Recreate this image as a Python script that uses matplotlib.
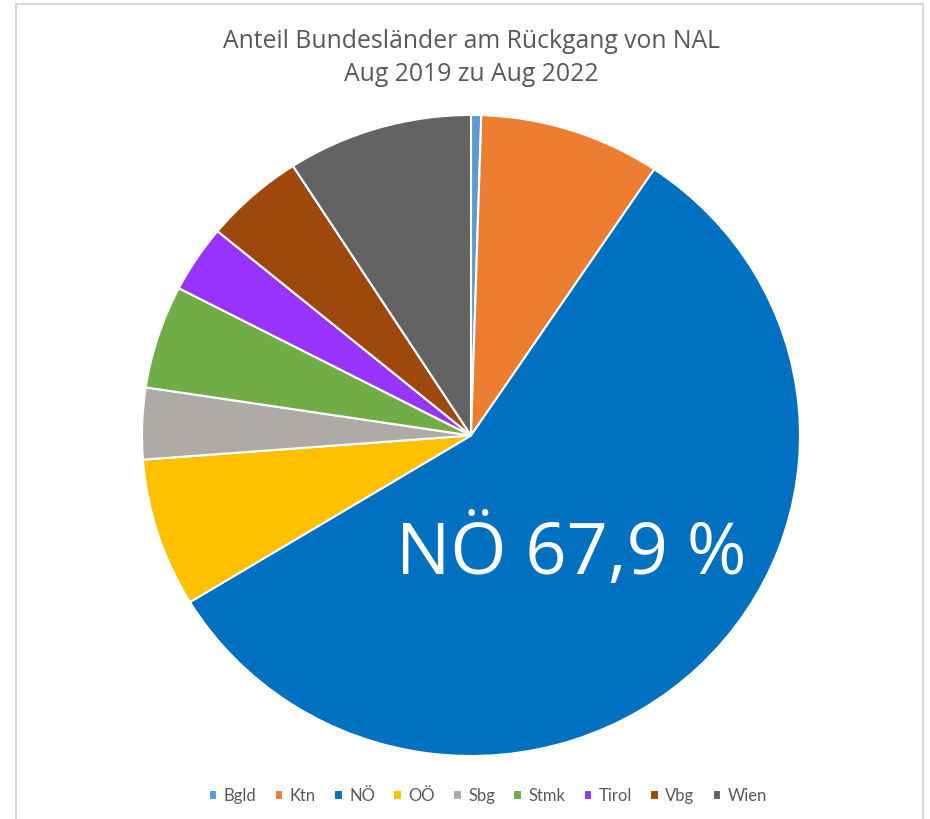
import matplotlib.pyplot as plt
from matplotlib.patches import Rectangle

# Shares of the decline (percent)
regions = ['Bgld', 'Ktn', 'NÖ', 'OÖ', 'Sbg', 'Stmk', 'Tirol', 'Vbg', 'Wien']
shares = [0.5, 8.9, 56.9, 7.5, 3.6, 5.2, 3.4, 4.9, 9.1]
colors = ['#5B9BD5', '#ED7D31', '#0070C0', '#FFC000', '#ADAAA8',
          '#70AD47', '#9933FF', '#9E480E', '#636363']
title = 'Anteil Bundesländer am Rückgang von NAL\nAug 2019 zu Aug 2022'
big_label = 'NÖ 67,9 %'

plt.rcParams['font.family'] = ['Lato', 'DejaVu Sans']

fig = plt.figure(figsize=(9.3, 8.19), dpi=100)

# chart frame like the Excel chart area
fig.patches.append(Rectangle((16 / 930, -0.01), (923 - 16) / 930, 1 - 4 / 819 + 0.01,
                             transform=fig.transFigure, fill=False,
                             edgecolor='#d9d9d9', linewidth=1.5))

# the screenshot is slightly stretched sideways, so no equal aspect
ax = fig.add_axes([0.1527, 0.0769, 0.7075, 0.7827])
wedges, _ = ax.pie(shares, colors=colors, startangle=90, counterclock=False,
                   radius=1, wedgeprops=dict(edgecolor='white', linewidth=1.5))
ax.set_xlim(-1, 1)
ax.set_ylim(-1, 1)
ax.set_aspect('auto')
ax.axis('off')

ax.text(0.306, -0.37, big_label, color='white', fontsize=52,
        ha='center', va='center', family=['Open Sans', 'DejaVu Sans'])

fig.text(0.5065, 1 - 58 / 819, title, ha='center', va='center',
         fontsize=17.8, color='#595959', linespacing=1.38,
         family=['Open Sans', 'DejaVu Sans'])

fig.legend(wedges, regions, loc='center', bbox_to_anchor=(488 / 930, 1 - 796 / 819),
           ncol=len(regions), frameon=False, fontsize=12, handlelength=0.5,
           handleheight=0.5, handletextpad=0.4, columnspacing=1.1,
           labelcolor='#595959')

fig.savefig('out.png', dpi=100, facecolor='white')
